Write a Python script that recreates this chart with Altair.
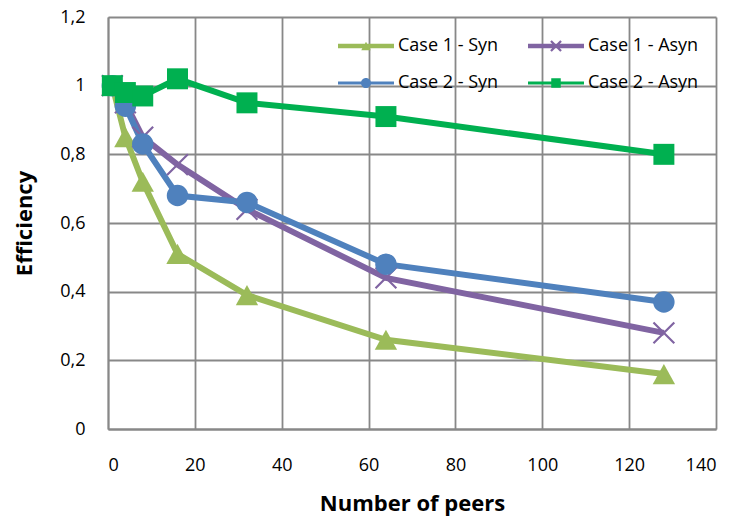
import altair as alt
import pandas as pd
import math

peers = [1, 4, 8, 16, 32, 64, 128]
case1_syn = [1.00, 0.85, 0.72, 0.51, 0.39, 0.26, 0.16]
case1_asyn = [1.00, 0.95, 0.85, 0.77, 0.64, 0.44, 0.28]
case2_syn = [1.00, 0.94, 0.83, 0.68, 0.66, 0.48, 0.37]
case2_asyn = [1.00, 0.98, 0.97, 1.02, 0.95, 0.91, 0.80]

series_names = ["Case 1 - Syn", "Case 1 - Asyn", "Case 2 - Syn", "Case 2 - Asyn"]
series_values = [case1_syn, case1_asyn, case2_syn, case2_asyn]
colors = ["#9BBB59", "#8064A2", "#4F81BD", "#00B050"]
line_widths = [6, 6, 3, 3]
marker_sizes = [500, 440, 215, 225]

x_ticks = [0, 20, 40, 60, 80, 100, 120, 140]
y_ticks = [0, 0.2, 0.4, 0.6, 0.8, 1.0, 1.2]

rows = []
for name, vals in zip(series_names, series_values):
    for p, v in zip(peers, vals):
        rows.append({"series": name, "peers": p, "eff": v})
df = pd.DataFrame(rows)


def f(v):
    return f"{v:.4f}"


def line_rect(t):
    return f"M-1,{f(-t)}L1,{f(-t)}L1,{f(t)}L-1,{f(t)}Z"


def tri(m):
    return f"M0,{f(-0.9*m)}L{f(m)},{f(0.9*m)}L{f(-m)},{f(0.9*m)}Z"


def circ(m):
    return f"M{f(-m)},0A{f(m)},{f(m)} 0 1,1 {f(m)},0A{f(m)},{f(m)} 0 1,1 {f(-m)},0Z"


def sq(m):
    return f"M{f(-m)},{f(-m)}L{f(m)},{f(-m)}L{f(m)},{f(m)}L{f(-m)},{f(m)}Z"


def xs(m, h):
    d = h / math.sqrt(2)
    r1 = f"M{f(-m+d)},{f(-m-d)}L{f(m+d)},{f(m-d)}L{f(m-d)},{f(m+d)}L{f(-m-d)},{f(-m+d)}Z"
    r2 = f"M{f(-m-d)},{f(m-d)}L{f(m-d)},{f(-m-d)}L{f(m+d)},{f(-m+d)}L{f(-m+d)},{f(m+d)}Z"
    return r1 + r2


point_shapes = [tri(1), xs(0.95, 0.1), "circle", "square"]
legend_shapes = [
    line_rect(0.08) + tri(0.17),
    line_rect(0.08) + xs(0.18, 0.04),
    line_rect(0.055) + circ(0.18),
    line_rect(0.055) + sq(0.17),
]

FONT = "Open Sans"

x_enc = alt.X("peers:Q", scale=alt.Scale(domain=[0, 140], nice=False),
              axis=alt.Axis(values=x_ticks, title="Number of peers", labelPadding=27,
                            titlePadding=19, format="d"))
y_enc = alt.Y("eff:Q", scale=alt.Scale(domain=[0, 1.2], nice=False),
              axis=alt.Axis(values=y_ticks, title="Efficiency", format=".1~f",
                            labelExpr="replace(datum.label, '.', ',')",
                            labelPadding=23, titlePadding=23))

color_scale = alt.Scale(domain=series_names, range=colors)

lines = alt.Chart(df).mark_line().encode(
    x=x_enc, y=y_enc,
    color=alt.Color("series:N", scale=color_scale, legend=None),
    strokeWidth=alt.StrokeWidth("series:N", scale=alt.Scale(domain=series_names, range=line_widths), legend=None),
    order=alt.Order("peers:Q"),
)

points = alt.Chart(df).mark_point(filled=True, opacity=1, strokeWidth=0).encode(
    x=x_enc, y=y_enc,
    color=alt.Color("series:N", scale=color_scale, legend=None),
    shape=alt.Shape("series:N", scale=alt.Scale(domain=series_names, range=point_shapes), legend=None),
    size=alt.Size("series:N", scale=alt.Scale(domain=series_names, range=marker_sizes), legend=None),
)

leg = alt.Legend(
    title=None, orient="none", legendX=230, legendY=1, columns=2, direction="horizontal",
    symbolSize=3136, symbolStrokeWidth=0, symbolOpacity=1,
    labelFont=FONT, labelFontSize=18, labelColor="black", labelOffset=4,
    rowPadding=-20, columnPadding=29, labelLimit=0, padding=0,
)

legend_layer = alt.Chart(df).transform_filter("false").mark_point(
    filled=True, opacity=1, size=3136, strokeWidth=0
).encode(
    x=x_enc, y=y_enc,
    color=alt.Color("series:N", scale=color_scale, legend=leg),
    shape=alt.Shape("series:N", scale=alt.Scale(domain=series_names, range=legend_shapes), legend=leg),
)

chart = alt.layer(lines, points, legend_layer).resolve_scale(
    shape="independent"
).resolve_legend(
    color="independent", shape="independent"
).properties(
    width=608, height=412,
    autosize=alt.AutoSizeParams(type="none"),
    padding={"left": 100, "top": 9, "right": 15, "bottom": 93},
).configure_view(stroke=None).configure_axis(
    grid=True, gridColor="#888888", gridWidth=1.8,
    domainColor="#888888", domainWidth=1.8, ticks=False,
    labelFont=FONT, labelFontSize=18, labelColor="black",
    titleFont=FONT, titleFontSize=22, titleFontWeight="bold", titleColor="black",
)

chart.save("out.html", embed_options={"renderer": "svg", "actions": False})
